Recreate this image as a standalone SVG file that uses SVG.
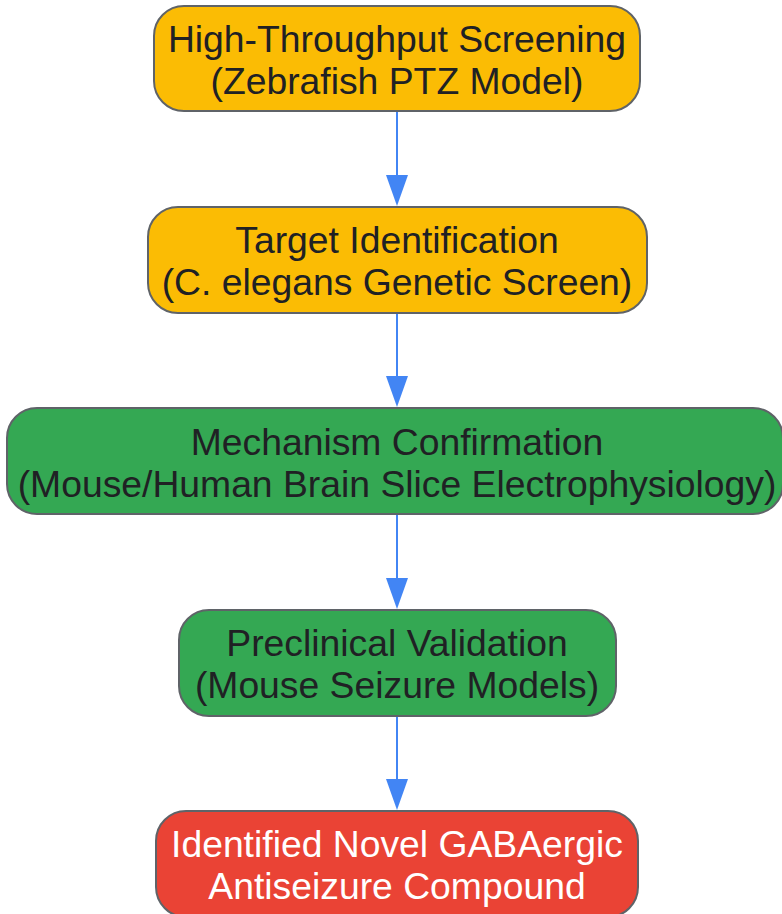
<svg xmlns="http://www.w3.org/2000/svg" width="782" height="914" viewBox="0 0 782 914">
<style>
.node rect{stroke:#5f6368;stroke-width:2}
.y rect{fill:#FBBC04}
.g rect{fill:#34A853}
.r rect{fill:#EA4335}
text{font-family:"Liberation Sans",Arial,sans-serif;font-size:37.3px;text-anchor:middle;fill:#202124}
.r text{fill:#ffffff}
.edge{stroke:#4285F4;stroke-width:2;fill:none;marker-end:url(#arr)}
</style>
<defs>
<marker id="arr" markerUnits="userSpaceOnUse" markerWidth="31" markerHeight="22" viewBox="0 0 31 22" refX="21" refY="11" orient="auto">
<path d="M0,0 L31,11 L0,22 z" fill="#4285F4"/>
</marker>
</defs>
<rect width="782" height="914" fill="#ffffff"/>
<g id="connectors">
<line class="edge" x1="397" y1="112" x2="397" y2="196"/>
<line class="edge" x1="397" y1="314" x2="397" y2="397"/>
<line class="edge" x1="397" y1="515" x2="397" y2="599"/>
<line class="edge" x1="397" y1="716" x2="397" y2="800"/>
</g>
<g id="n1" class="node y">
<rect x="154" y="6" width="486" height="105" rx="30"/>
<text x="397" y="52">High-Throughput Screening</text>
<text x="397" y="94">(Zebrafish PTZ Model)</text>
</g>
<g id="n2" class="node y">
<rect x="148" y="207" width="499" height="106" rx="30"/>
<text x="397" y="253">Target Identification</text>
<text x="397" y="295">(C. elegans Genetic Screen)</text>
</g>
<g id="n3" class="node g">
<rect x="7" y="408" width="776" height="106" rx="30"/>
<text x="397" y="455">Mechanism Confirmation</text>
<text x="397" y="497">(Mouse/Human Brain Slice Electrophysiology)</text>
</g>
<g id="n4" class="node g">
<rect x="179" y="610" width="437" height="106" rx="30"/>
<text x="397" y="656">Preclinical Validation</text>
<text x="397" y="698">(Mouse Seizure Models)</text>
</g>
<g id="n5" class="node r">
<rect x="156" y="811" width="482" height="106" rx="30"/>
<text x="397" y="857">Identified Novel GABAergic</text>
<text x="397" y="899">Antiseizure Compound</text>
</g>
</svg>
